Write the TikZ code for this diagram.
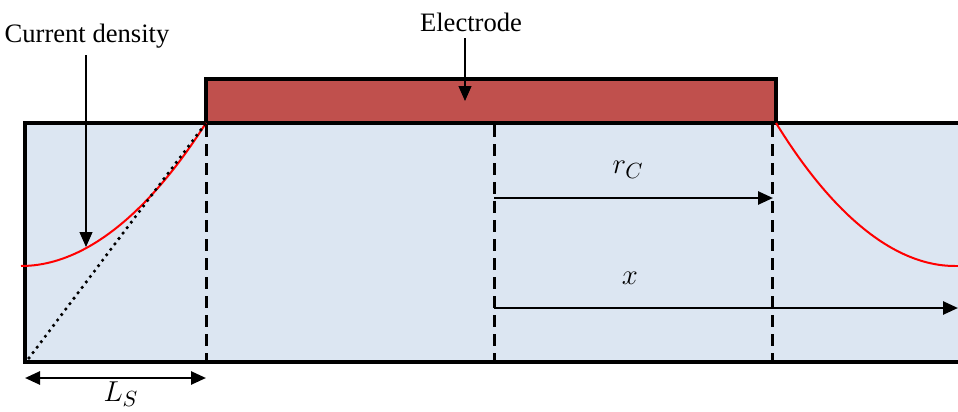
\documentclass[tikz,border=0pt]{standalone}
\usepackage{fontspec}
\setmainfont{Liberation Serif}
\usepackage{amsmath}
\usepackage{xcolor}
\usetikzlibrary{arrows.meta}
\definecolor{substrate}{HTML}{DCE6F2}
\definecolor{electrodered}{HTML}{C0504D}

\begin{document}
\begin{tikzpicture}[x=0.5pt, y=-0.5pt, font=\fontsize{13.3}{16}\selectfont]
    \clip (0, 0) rectangle (958, 412);
    % Substrate
    \draw [line width=2pt, fill=substrate] (990, 123) -- (25, 123) -- (25, 362) -- (990, 362);
    % Electrode
    \draw [line width=2pt, fill=electrodered] (206, 79) rectangle (776, 123);
    % Dashed verticals
    \draw [line width=1.5pt, dash pattern=on 6pt off 3.5pt] (206, 125) -- (206, 362);
    \draw [line width=1.5pt, dash pattern=on 6pt off 3.5pt] (494, 125) -- (494, 362);
    \draw [line width=1.5pt, dash pattern=on 6pt off 3.5pt] (772, 125) -- (772, 362);
    % Current density curves
    \coordinate (lowleft) at (21, 266);
    \coordinate (edgeleft) at (206, 123);
    \coordinate (edgeright) at (776, 123);
    \coordinate (lowright) at (955, 266);
    \draw [red, line width=1pt] (lowleft) parabola (edgeleft);
    \draw [red, line width=1pt] (lowright) parabola (edgeright);
    \draw [red, line width=1pt] (lowright) -- (965, 266);
    % Dotted line
    \coordinate (corner) at (29, 358);
    \draw [line width=1.8pt, dash pattern=on 0pt off 3.4pt, line cap=round] (corner) -- (edgeleft);
    % Labels
    \node (cd) at (87, 36) {Current density};
    \node (electrode) at (471, 22) {Electrode};
    \node [font=\fontsize{15.5}{18}\selectfont] (rc) at (628, 170) {$r_C$};
    \node [font=\fontsize{15.5}{18}\selectfont] (xlab) at (630, 278) {$x$};
    \node [font=\fontsize{15.5}{18}\selectfont] (ls) at (121, 394) {$L_S$};
    % Black arrows
    \tikzset{arrows={-{Triangle[length=7.5pt, width=6.5pt]}}};
    \coordinate (cdtip) at (86, 247);
    \coordinate (eltip) at (465, 101);
    \draw [line width=0.6pt] (cd.south -| cdtip) -- (cdtip);
    \draw [line width=0.6pt] (electrode.south -| eltip) -- (eltip);
    \coordinate (rcstart) at (494, 198);
    \coordinate (rcend) at (773, 198);
    \coordinate (xstart) at (494, 308);
    \coordinate (xend) at (958, 308);
    \draw [line width=1.3pt] (rcstart) -- (rcend);
    \draw [line width=1.3pt] (xstart) -- (xend);
    % Double arrow
    \coordinate (lsleft) at (25, 378);
    \coordinate (lsright) at (206, 378);
    \draw [line width=1.3pt, arrows={{Triangle[length=7.5pt, width=6.5pt]}-{Triangle[length=7.5pt, width=6.5pt]}}] (lsleft) -- (lsright);
\end{tikzpicture}
\end{document}
